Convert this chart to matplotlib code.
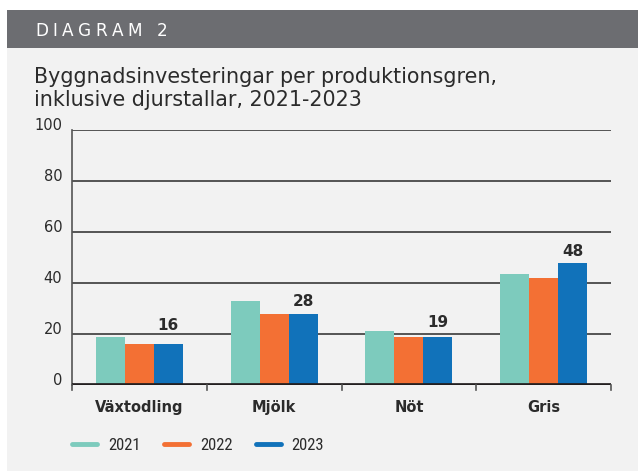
import matplotlib
matplotlib.use("Agg")
import matplotlib.pyplot as plt
from matplotlib.patches import Rectangle
from matplotlib.lines import Line2D
from matplotlib import font_manager as fm
import numpy as np

categories = ["Växtodling", "Mjölk", "Nöt", "Gris"]
years = ["2021", "2022", "2023"]
v2021 = [19, 33, 21, 43.5]
v2022 = [16, 28, 19, 42]
v2023 = [16, 28, 19, 48]
yticks = [0, 20, 40, 60, 80, 100]
label_offsets = [4.3, 1.8, 2.4, 1.6]

colors = ["#7dcbbd", "#f37034", "#1172ba"]
W, H = 638, 471
fig = plt.figure(figsize=(W / 100, H / 100), dpi=100)
fig.patch.set_facecolor("white")


def has_font(name):
    try:
        return fm.findfont(fm.FontProperties(family=name), fallback_to_default=False)
    except Exception:
        return None


narrow = None
for cand in ["Liberation Sans Narrow", "DejaVu Sans Condensed", "Roboto Condensed"]:
    p = has_font(cand)
    if p and ("Narrow" in p or "Condensed" in p):
        narrow = cand
        break


def fx(px):
    return px / W


def fy(py):
    return 1 - py / H


# background panel and header band
fig.patches.append(Rectangle((fx(7), 0), 1 - fx(7), fy(48), transform=fig.transFigure,
                             facecolor="#f2f2f2", edgecolor="none", zorder=-5))
fig.patches.append(Rectangle((fx(7), fy(48)), 1 - fx(7), fy(10) - fy(48), transform=fig.transFigure,
                             facecolor="#6c6d71", edgecolor="none", zorder=-5))

# letter-spaced header text
renderer = fig.canvas.get_renderer()
header = "DIAGRAM 2"
hprop = fm.FontProperties(family="DejaVu Sans", size=12.2)
def text_w(s):
    if not s:
        return 0.0
    w, _, _ = renderer.get_text_width_height_descent(s, hprop, ismath=False)
    return w
natural = text_w(header)
target = 132.0
tracking = (target - natural) / (len(header) - 1)
for i, ch in enumerate(header):
    if ch == " ":
        continue
    xpx = 35 + text_w(header[:i]) + i * tracking
    fig.text(fx(xpx), fy(30.5), ch, color="white", fontproperties=hprop, va="center", ha="left")

fig.text(fx(34), fy(83), "Byggnadsinvesteringar per produktionsgren,",
         color="#2b2b2b", fontsize=14.9, family="DejaVu Sans", va="baseline", ha="left")
fig.text(fx(34), fy(106), "inklusive djurstallar, 2021-2023",
         color="#2b2b2b", fontsize=14.9, family="DejaVu Sans", va="baseline", ha="left")

ax = fig.add_axes([fx(72), fy(385), fx(611) - fx(72), fy(130) - fy(385)])
ax.set_facecolor("none")
x = np.arange(len(categories))
bw = 0.215
for i, (vals, c) in enumerate(zip([v2021, v2022, v2023], colors)):
    ax.bar(x + (i - 1) * bw, vals, width=bw, color=c, zorder=3, linewidth=0)

# data labels for 2023
for xi, v, off in zip(x, v2023, label_offsets):
    ax.text(xi + bw, v + off, f"{v:g}", ha="center", va="bottom", fontsize=11,
            color="#2b2b2b", fontweight="bold", family="DejaVu Sans")

ax.set_xlim(-0.5, len(categories) - 0.5)
ax.set_ylim(0, 100)
ax.set_yticks(yticks)
ax.set_yticklabels([str(t) for t in yticks], fontsize=10.5, color="#2b2b2b", family="DejaVu Sans",
                   va="baseline")
for t in yticks[1:]:
    ax.axhline(t, color="#3a3a3a", linewidth=1.2, zorder=1)
ax.axhline(0, color="#231f20", linewidth=3.4, zorder=4)
ax.tick_params(axis="y", length=0, pad=7)
ax.set_xticks(x)
ax.set_xticklabels(categories, fontsize=10.5, fontweight="bold", color="#2b2b2b", family="DejaVu Sans")
ax.tick_params(axis="x", length=0, pad=11)
for b in np.arange(-0.5, len(categories), 1.0):
    ax.plot([b, b], [0, -2.0], color="#555555", linewidth=1.2, clip_on=False, zorder=4)
for s in ["top", "right", "bottom"]:
    ax.spines[s].set_visible(False)
ax.spines["left"].set_color("#555555")
ax.spines["left"].set_linewidth(1.2)

# legend
handles = [Line2D([0], [0], color=c, linewidth=3.5, solid_capstyle="round") for c in colors]
if narrow:
    prop = {"family": narrow, "size": 12}
else:
    prop = {"family": "Roboto", "size": 11}
leg = fig.legend(handles, years, loc="center left", bbox_to_anchor=(fx(72), fy(445)),
                 ncol=3, frameon=False, handlelength=1.5, handletextpad=0.66,
                 columnspacing=1.4, borderpad=0, borderaxespad=0, prop=prop)
for t in leg.get_texts():
    t.set_color("#2b2b2b")

fig.savefig("out.png", dpi=100, facecolor=fig.get_facecolor())
